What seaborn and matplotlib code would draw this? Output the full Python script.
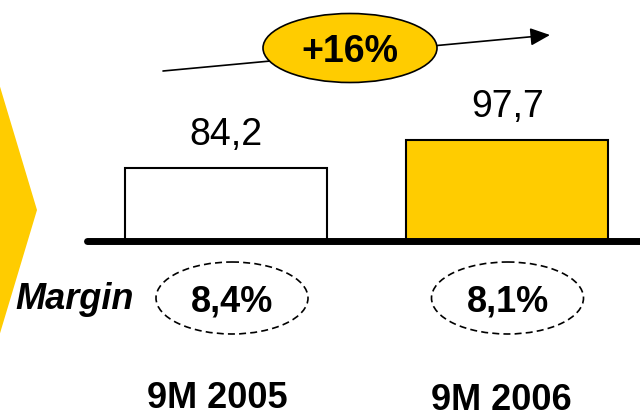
import matplotlib
matplotlib.use("Agg")
import matplotlib.pyplot as plt
import numpy as np
import pandas as pd
import seaborn as sns
from matplotlib.patches import Ellipse, Polygon

# Sales for the first nine months of each year and the matching margins
periods = ["9M 2005", "9M 2006"]
sales = [84.2, 97.7]
margins = [8.4, 8.1]
bar_colors = ["#FFFFFF", "#FFCC00"]

YELLOW = "#FFCC00"
W, H = 640, 417

sns.set_theme(style="white")
plt.rcParams["font.family"] = ["Liberation Sans", "DejaVu Sans"]
plt.rcParams["text.color"] = "black"


def fmt(v, suffix=""):
    return f"{v:.1f}".replace(".", ",") + suffix


fig = plt.figure(figsize=(W / 100, H / 100), dpi=100)

# Bar panel: its lower edge sits on the thick baseline
base_px = 241
ax = fig.add_axes([0, (H - base_px) / H, 1, base_px / H])
df = pd.DataFrame({"period": periods, "sales": sales})
sns.barplot(data=df, x="period", y="sales", hue="period", palette=bar_colors,
            saturation=1, edgecolor="black", linewidth=1.5, width=0.7176,
            legend=False, ax=ax)
ax.set_xlim(-0.803, 1.471)
ax.set_ylim(49.0, 165.2)
ax.set_axis_off()

for i, v in enumerate(sales):
    ax.annotate(fmt(v), (i, v), xytext=(0, 16.6), textcoords="offset points",
                ha="center", va="baseline", fontsize=27, color="black",
                annotation_clip=False)

# Overlay in pixel units for the decorations
ov = fig.add_axes([0, 0, 1, 1], zorder=5)
ov.set_xlim(0, W)
ov.set_ylim(H, 0)
ov.set_axis_off()
ov.patch.set_alpha(0)

# Chevron at the left edge
ov.add_patch(Polygon([(-2, 80), (37, 210), (-2, 340)], closed=True,
                     facecolor=YELLOW, edgecolor="none"))

# Baseline
ov.plot([86.5, 645], [241, 241], color="black", lw=5, solid_capstyle="round")

# Growth arrow with the percentage badge
ov.annotate("", xy=(550, 35), xytext=(163, 71),
            arrowprops=dict(arrowstyle="-|>,head_length=0.4,head_width=0.18",
                            color="black", lw=1.2, mutation_scale=30,
                            shrinkA=0, shrinkB=0))
ov.add_patch(Ellipse((350, 48), 174, 69, facecolor=YELLOW, edgecolor="black",
                     lw=1.2, zorder=3))
growth = round((sales[1] / sales[0] - 1) * 100)
ov.text(350, 62, f"+{growth}%", ha="center", va="baseline", fontsize=27,
        fontweight="bold", color="black", zorder=4)

# Margins
ov.text(15, 309, "Margin", ha="left", va="baseline", fontsize=26,
        fontweight="bold", fontstyle="italic", color="black")
margin_x = [232, 507.5]
for cx, m in zip(margin_x, margins):
    ov.add_patch(Ellipse((cx, 298), 152, 72, facecolor="none", edgecolor="black",
                         lw=1.2, linestyle=(0, (4.2, 2.5))))
    ov.text(cx, 311.5, fmt(m, "%"), ha="center", va="baseline", fontsize=26,
            fontweight="bold", color="black")

# Period labels
label_x = [217, 501]
label_y = [408, 410]
for lx, ly, p in zip(label_x, label_y, periods):
    ov.text(lx, ly, p, ha="center", va="baseline", fontsize=26,
            fontweight="bold", color="black")

fig.savefig("out.png", dpi=100)
